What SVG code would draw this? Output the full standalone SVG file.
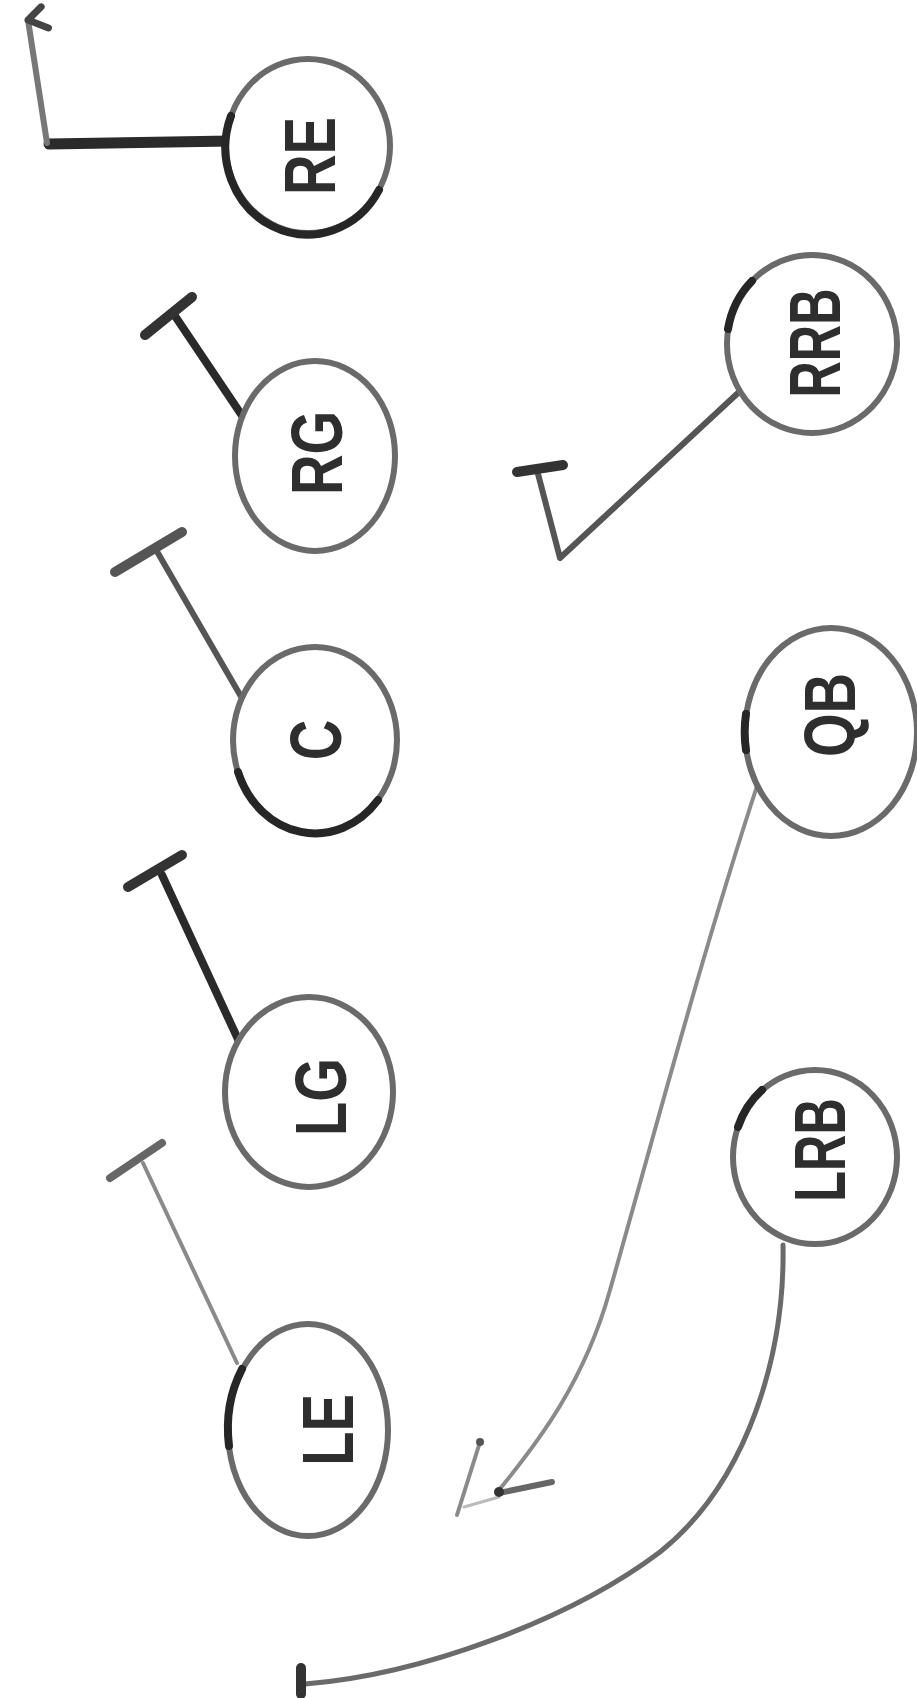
<svg xmlns="http://www.w3.org/2000/svg" width="917" height="1698" viewBox="0 0 917 1698">
<defs>
<style>
.node{fill:#fff;stroke:#6a6a6a;stroke-width:6}
.acc{fill:none;stroke:#262626;stroke-width:8;stroke-linecap:round}
.lbl{font-family:"Liberation Sans",Arial,sans-serif;font-weight:bold;font-size:72px;fill:#2e2e2e;text-anchor:middle;dominant-baseline:central}
.route{fill:none;stroke:#555;stroke-width:6;stroke-linecap:round;stroke-linejoin:round}
.dark{stroke:#2a2a2a;stroke-width:8}
.light{stroke:#8a8a8a;stroke-width:4}
.tbar{fill:none;stroke:#333;stroke-width:10;stroke-linecap:round}
</style>
<marker id="arrow" viewBox="0 0 30 30" refX="15" refY="5" markerWidth="30" markerHeight="30" markerUnits="userSpaceOnUse" orient="auto-start-reverse">
<path d="M4,24 L15,5 L26,20" fill="none" stroke="#444" stroke-width="7" stroke-linecap="round" stroke-linejoin="round"/>
</marker>
</defs>
<rect width="917" height="1698" fill="#fff"/>
<g id="connectors">
<path class="route dark" d="M231,141 L49,144" style="stroke-width:11"/>
<path class="route" d="M47,143 L28,20" style="stroke:#777" marker-end="url(#arrow)"/>
<path class="route dark" d="M247,423 L173,313"/>
<path class="tbar" d="M145,335 L192,297"/>
<path class="route" d="M243,700 L155,548"/>
<path class="tbar" d="M115,572 L182,532" style="stroke:#555"/>
<path class="route dark" d="M243,1050 L162,875"/>
<path class="tbar" d="M128,887 L182,855"/>
<path class="route light" d="M237,1363 L143,1163"/>
<path class="tbar" d="M110,1178 L162,1143" style="stroke:#666;stroke-width:8"/>
<path class="route" d="M752,380 L560,558 L537,470"/>
<path class="tbar" d="M517,472 L563,465"/>
<path class="route light" d="M758,783 C700,960 650,1150 610,1290 C585,1380 540,1440 499,1490"/>
<path class="route" d="M499,1493 L552,1482" style="stroke:#666"/>
<path class="route light" d="M480,1442 L457,1515"/>
<path class="route" d="M464,1507 L499,1497" style="stroke:#bbb;stroke-width:3"/>
<circle cx="499" cy="1492" r="5" fill="#333"/>
<circle cx="480" cy="1442" r="4" fill="#555"/>
<path class="route" d="M783,1245 C785,1350 750,1480 660,1552 C570,1620 420,1675 305,1684" style="stroke:#6a6a6a;stroke-width:5"/>
<path class="tbar" d="M301,1668 L301,1694"/>
</g>
<g id="node-RE">
<ellipse class="node" cx="308" cy="146" rx="82" ry="87"/>
<path class="acc" d="M231,116 A82,87 0 0 0 379,190"/>
<text class="lbl" transform="translate(310,156) rotate(-90) scale(0.78,1)">RE</text>
</g>
<g id="node-RG">
<ellipse class="node" cx="315" cy="456" rx="80" ry="95"/>
<text class="lbl" transform="translate(317,453) rotate(-90) scale(0.78,1)">RG</text>
</g>
<g id="node-C">
<ellipse class="node" cx="315" cy="740" rx="82" ry="93"/>
<path class="acc" d="M238,772 A82,93 0 0 0 378,800"/>
<text class="lbl" transform="translate(316,740) rotate(-90) scale(0.78,1)">C</text>
</g>
<g id="node-LG">
<ellipse class="node" cx="309" cy="1092" rx="84" ry="95"/>
<text class="lbl" transform="translate(321,1097) rotate(-90) scale(0.78,1)">LG</text>
</g>
<g id="node-LE">
<ellipse class="node" cx="308" cy="1430" rx="80" ry="106"/>
<path class="acc" d="M242,1369 A80,106 0 0 0 229,1446"/>
<text class="lbl" transform="translate(328,1430) rotate(-90) scale(0.78,1)">LE</text>
</g>
<g id="node-RRB">
<ellipse class="node" cx="812" cy="344" rx="85" ry="89"/>
<path class="acc" d="M752,281 A85,89 0 0 0 728,329"/>
<text class="lbl" transform="translate(815,343) rotate(-90) scale(0.7,1)">RRB</text>
</g>
<g id="node-QB">
<ellipse class="node" cx="831" cy="732" rx="86" ry="104"/>
<path class="acc" d="M746,714 A86,104 0 0 0 746,750"/>
<text class="lbl" transform="translate(830,715) rotate(-90) scale(0.78,1)">QB</text>
</g>
<g id="node-LRB">
<ellipse class="node" cx="815" cy="1157" rx="82" ry="87"/>
<path class="acc" d="M762,1090 A82,87 0 0 0 738,1127"/>
<text class="lbl" transform="translate(820,1150) rotate(-90) scale(0.7,1)">LRB</text>
</g>
</svg>
